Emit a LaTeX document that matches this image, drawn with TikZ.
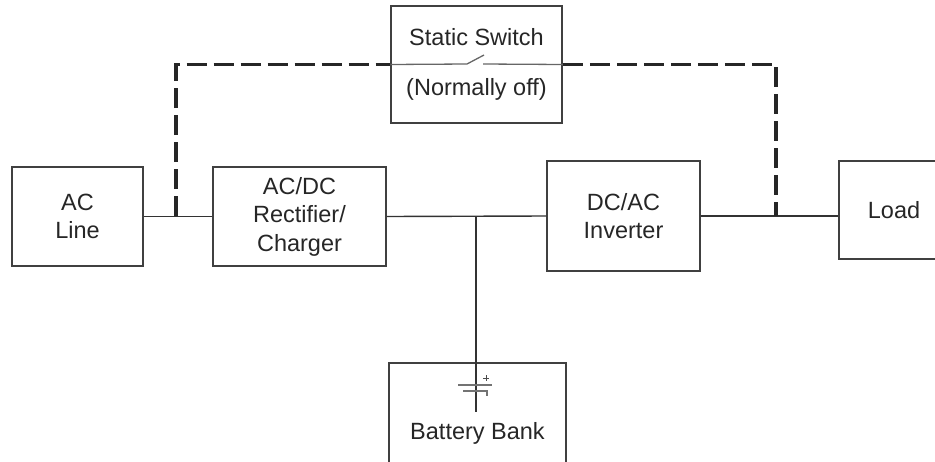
\documentclass[tikz,border=0pt]{standalone}
\usepackage{fontspec}
\setmainfont{Liberation Sans}
\begin{document}
\begin{tikzpicture}[x=1pt, y=-1pt, line width=1.4pt, draw=black!80, main node/.style={rectangle,draw=black!75,line width=1.5pt,align=center,inner sep=0pt,font=\fontsize{23.5}{28.5}\selectfont,text=black!85}, bypass/.style={line width=3.4pt,draw=black!85,dash pattern=on 20pt off 7pt}]%
\useasboundingbox (0,0) rectangle (935,461);
\clip (0,0) rectangle (935,461);
\begin{scope}
\node[main node,minimum width=131pt,minimum height=99pt] (ac) at (77.5,216.5) {AC\\Line};
\node[main node,minimum width=173pt,minimum height=99pt] (rect) at (299.5,216.5) {AC/DC\\Rectifier/\\Charger};
\node[main node,minimum width=153pt,minimum height=110pt] (inv) at (623.5,216) {DC/AC\\Inverter};
\node[main node,minimum width=110pt,minimum height=98pt] (load) at (894,210) {Load};
\node[main node,minimum width=171pt,minimum height=117pt] (sw) at (476.5,64.5) {Static Switch\\[22pt](Normally off)};
\node[main node,minimum width=177pt,minimum height=140pt] (bat) at (477.5,433) {\\[-10pt]Battery Bank};
\coordinate (j1) at (176,216);
\coordinate (j2) at (776,216);
\coordinate (jb) at (476,216);
\coordinate (bt) at (476,412);
\end{scope}
\begin{scope}
\draw (ac.east) -- (rect.west);
\draw (rect.east) -- (inv.west);
\draw (inv.east) -- (inv.east -| load.west);
\draw (jb) -- (bt);
%bypass path
\draw[bypass] (j1) -- (j1 |- sw.west) -- (sw.west);
\draw[bypass] (sw.east) -- (j2 |- sw.east) -- (j2);
\draw[black!60,line width=1.3pt] (sw.west) -- (467,64) -- (484,55);
\draw[black!60,line width=1.3pt] (483,64) -- (sw.east);
%battery
\draw[black!55,line width=1.8pt] (458,385) -- (492,385);
\draw[black!55,line width=1.8pt] (463,391) -- (487,391) -- (487,396);
\draw[black!70,line width=1pt] (483,378) -- (489,378) (486,375) -- (486,381);
\end{scope}
\end{tikzpicture}
\end{document}
